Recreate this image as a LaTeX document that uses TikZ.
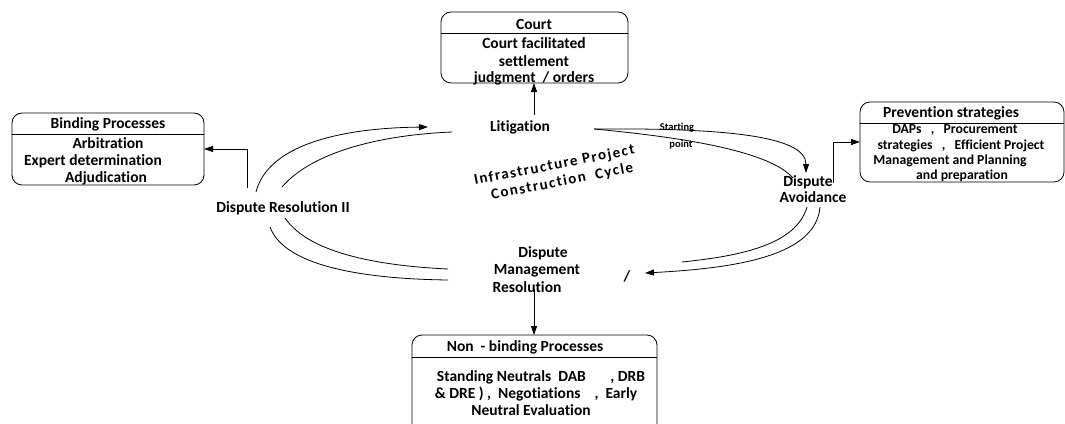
\documentclass[tikz,border=0pt]{standalone}
\usepackage{fontspec}
\setmainfont{Carlito}[Ligatures=NoCommon]
\usetikzlibrary{arrows.meta}
\begin{document}
\begin{tikzpicture}[x=1pt,y=-1pt,
  every node/.style={inner sep=0pt, outer sep=0pt},
  lbl/.style={font=\fontsize{15.5}{18}\selectfont\bfseries, align=center},
  bodytxt/.style={font=\fontsize{13.7}{16}\selectfont\bfseries},
  tinytxt/.style={font=\fontsize{10.5}{12}\selectfont\bfseries},
  cycletxt/.style={font=\fontsize{15}{17.5}\selectfont\bfseries\addfontfeatures{LetterSpace=10}, rotate=11, align=center},
  procbox/.style={draw, rounded corners=10pt, line width=0.8pt},
  conn/.style={line width=0.8pt},
  arr/.style={conn, -{Triangle[length=9pt,width=6pt]}}
]
\useasboundingbox (0,0) rectangle (1065,423);

% ---------- boxes ----------
\node[procbox, minimum width=187pt, minimum height=71pt] (court) at (534.5,47.5) {};
\draw[conn] (court.west |- 0,33) -- (court.east |- 0,33);
\node[lbl] (courtT) at (534,24) {Court};
\node[lbl] (court1) at (534,43) {Court facilitated};
\node[lbl] (court2) at (534,61) {settlement};
\node[lbl] (court3) at (534,78) {judgment\ \ / orders};

\node[procbox, minimum width=192pt, minimum height=72pt] (bind) at (108,149) {};
\draw[conn] (bind.west |- 0,134) -- (bind.east |- 0,134);
\node[lbl] (bindT) at (108,124) {Binding Processes};
\node[lbl] (bind1) at (108,143) {Arbitration};
\node[lbl] (bind2) at (93,161) {Expert determination};
\node[lbl] (bind3) at (106,178) {Adjudication};

\node[procbox, minimum width=204pt, minimum height=80pt] (prev) at (962,142) {};
\draw[conn] (prev.west |- 0,123) -- (prev.east |- 0,123);
\node[lbl] (prevT) at (951,113) {Prevention strategies};
\node[bodytxt] (prev1) at (955,130) {DAPs\ \ \ ,\ \ \ Procurement};
\node[bodytxt] (prev2) at (961,146) {strategies\ \ \ ,\ \ \ Efficient Project};
\node[bodytxt] (prev3) at (950,161) {Management and Planning};
\node[bodytxt] (prev4) at (962,176) {and preparation};

\node[procbox, minimum width=245pt, minimum height=105pt] (nb) at (534.5,387.5) {};
\draw[conn] (nb.west |- 0,357) -- (nb.east |- 0,357);
\node[lbl] (nbT) at (525,347) {Non\ \ -\ binding Processes};
\node[lbl] (nb1) at (541,377) {Standing Neutrals\ \ DAB\ \ \ \ \ \ \ ,\ DRB};
\node[lbl] (nb2) at (536,394) {\&\ DRE\ )\ ,\ \ Negotiations\ \ \ \ ,\ \ Early};
\node[lbl] (nb3) at (531,410) {Neutral Evaluation};

% ---------- cycle labels ----------
\node[lbl] (lit) at (520,127) {Litigation};
\node[lbl] (dr2) at (283,208) {Dispute Resolution II};
\node[lbl] (dm1) at (543,253) {Dispute};
\node[lbl] (dm2) at (537,271) {Management};
\node[lbl] (dm3) at (527,287) {Resolution};
\node[lbl] (slash) at (627,276) {/};
\node[lbl] (da1) at (808,182) {Dispute};
\node[lbl] (da2) at (813,197) {Avoidance};
\node[tinytxt] (st1) at (677,128) {Starting};
\node[tinytxt] (st2) at (681,145) {point};
\node[cycletxt] (cyc) at (556,174) {Infrastructure Project\\\hspace*{9pt}Construction\ \ Cycle};

% ---------- connector end points ----------
\coordinate (a0) at (256,192);  \coordinate (a1) at (428,127);
\coordinate (b0) at (282,187);  \coordinate (b1) at (452,132);
\coordinate (c0) at (594,129);  \coordinate (c1) at (806,173);
\coordinate (d1) at (793,178);
\coordinate (e0) at (820,207);  \coordinate (e1) at (645,273);
\coordinate (f0) at (807,207);  \coordinate (f1) at (682,262);
\coordinate (g0) at (270,227);  \coordinate (g1) at (448,280);
\coordinate (h0) at (285,218);  \coordinate (h1) at (448,269);
\coordinate (pb) at (247,188);
\coordinate (pp) at (833,183);
\coordinate (pc) at (534,115);
\coordinate (pn) at (534,289);

% ---------- cycle curves ----------
\draw[arr] (a0) .. controls (268,145) and (340,128) .. (a1);
\draw[conn] (b0) .. controls (312,152) and (380,135) .. (b1);
\draw[arr] (c0) .. controls (720,128) and (806,135) .. (c1);
\draw[conn] (c0) .. controls (690,138) and (770,152) .. (d1);
\draw[arr] (e0) .. controls (816,255) and (740,268) .. (e1);
\draw[conn] (f0) .. controls (796,245) and (740,256) .. (f1);
\draw[conn] (g0) .. controls (285,268) and (370,279) .. (g1);
\draw[conn] (h0) .. controls (310,255) and (385,266) .. (h1);

% ---------- links to boxes ----------
\draw[arr] (pb) |- (bind.east);
\draw[arr] (pp) |- (prev.west);
\draw[arr] (pc) -- (court.south -| pc);
\draw[arr] (pn) -- (nb.north -| pn);
\end{tikzpicture}
\end{document}
